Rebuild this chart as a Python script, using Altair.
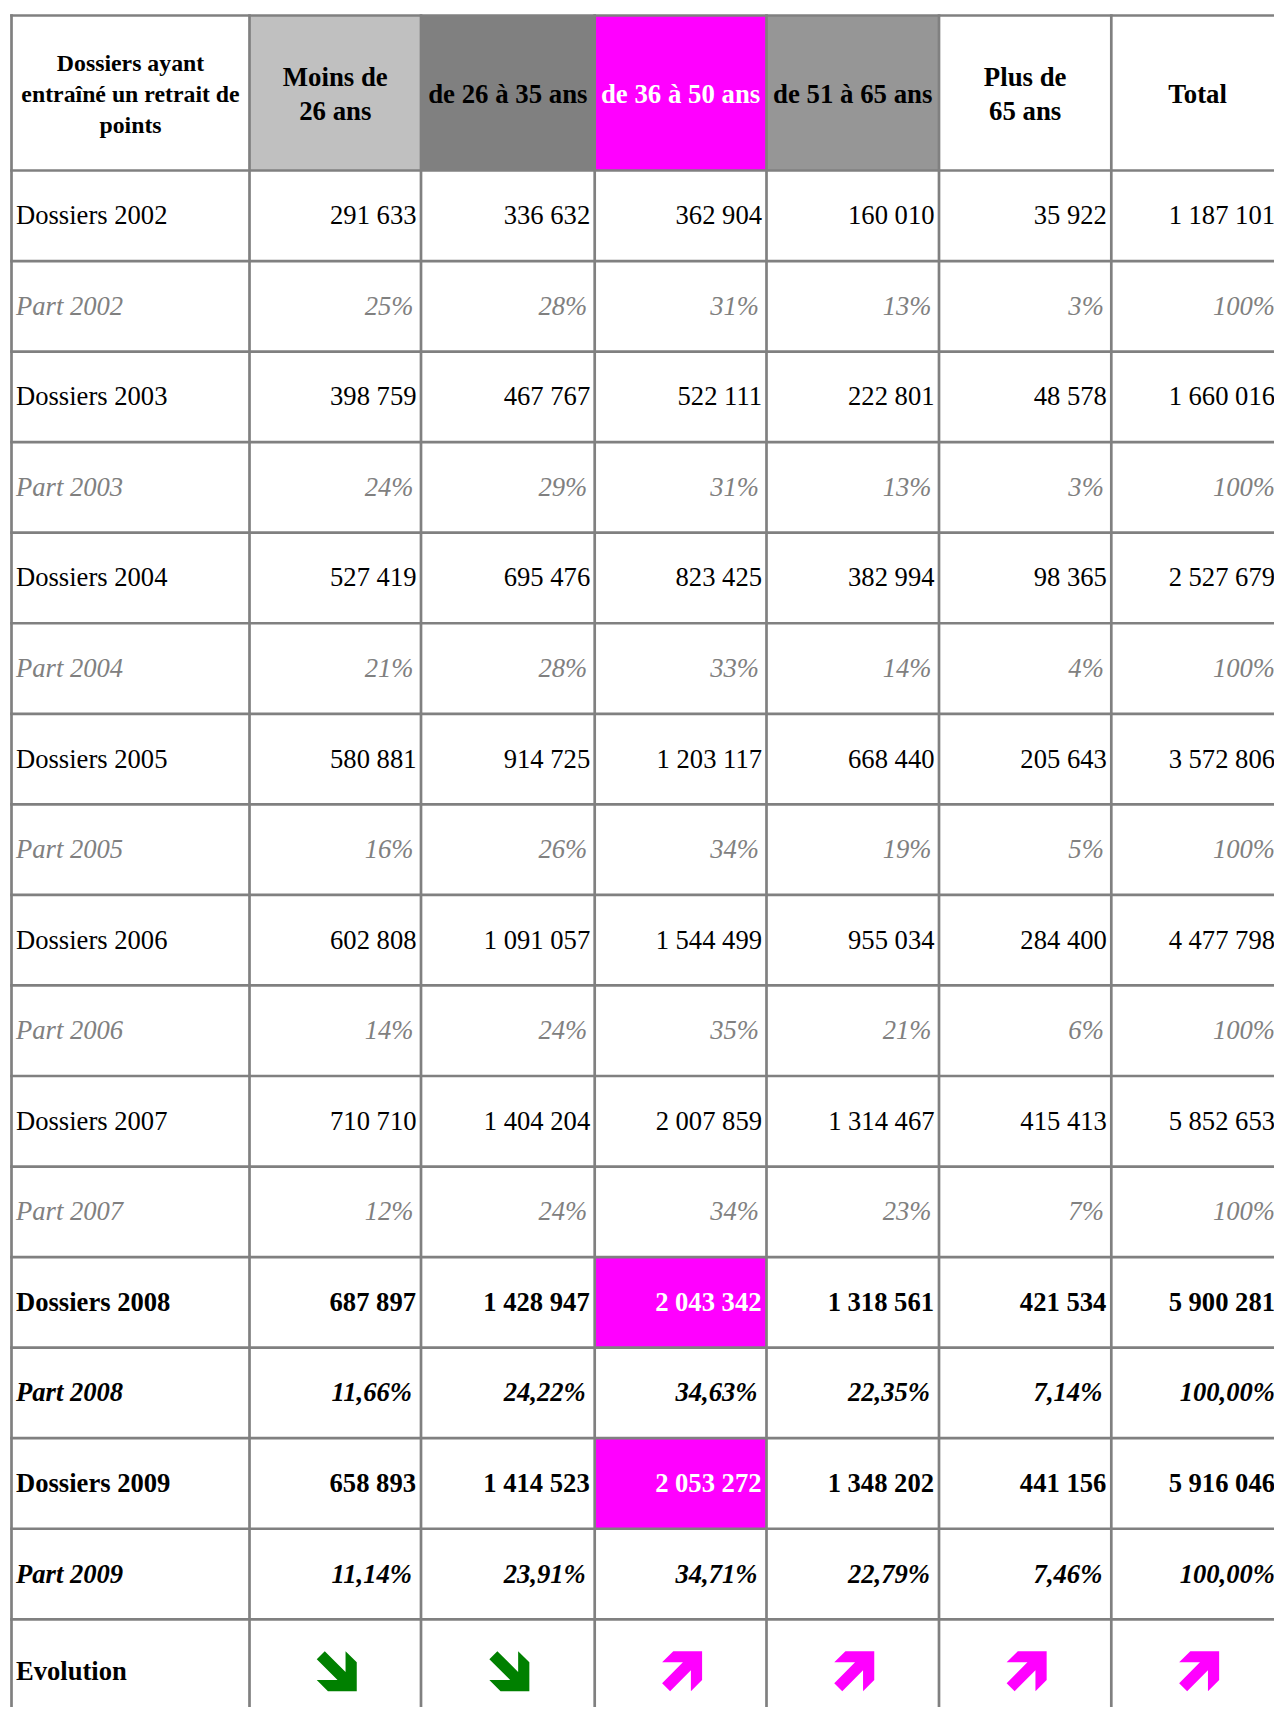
import altair as alt
import pandas as pd

FONT = "Liberation Serif"

# ---------------- data ----------------
age_groups = ["Moins de 26 ans", "de 26 à 35 ans", "de 36 à 50 ans",
              "de 51 à 65 ans", "Plus de 65 ans", "Total"]
header_labels = ["Dossiers ayant\nentraîné un retrait de\npoints",
                 "Moins de\n26 ans", "de 26 à 35 ans", "de 36 à 50 ans",
                 "de 51 à 65 ans", "Plus de\n65 ans", "Total"]
header_fills = ["#ffffff", "#c0c0c0", "#808080", "#ff00ff", "#969696", "#ffffff", "#ffffff"]
header_text_colors = ["#000000", "#000000", "#000000", "#ffffff", "#000000", "#000000", "#000000"]

years = [2002, 2003, 2004, 2005, 2006, 2007, 2008, 2009]
dossiers_2002 = [291633, 336632, 362904, 160010, 35922, 1187101]
dossiers_2003 = [398759, 467767, 522111, 222801, 48578, 1660016]
dossiers_2004 = [527419, 695476, 823425, 382994, 98365, 2527679]
dossiers_2005 = [580881, 914725, 1203117, 668440, 205643, 3572806]
dossiers_2006 = [602808, 1091057, 1544499, 955034, 284400, 4477798]
dossiers_2007 = [710710, 1404204, 2007859, 1314467, 415413, 5852653]
dossiers_2008 = [687897, 1428947, 2043342, 1318561, 421534, 5900281]
dossiers_2009 = [658893, 1414523, 2053272, 1348202, 441156, 5916046]

part_2002 = [25, 28, 31, 13, 3, 100]
part_2003 = [24, 29, 31, 13, 3, 100]
part_2004 = [21, 28, 33, 14, 4, 100]
part_2005 = [16, 26, 34, 19, 5, 100]
part_2006 = [14, 24, 35, 21, 6, 100]
part_2007 = [12, 24, 34, 23, 7, 100]
part_2008 = [11.66, 24.22, 34.63, 22.35, 7.14, 100.00]
part_2009 = [11.14, 23.91, 34.71, 22.79, 7.46, 100.00]

evolution = ["down", "down", "up", "up", "up", "up"]
highlight_col = "de 36 à 50 ans"
bold_years = [2008, 2009]

dossiers = dict(zip(years, [dossiers_2002, dossiers_2003, dossiers_2004, dossiers_2005,
                            dossiers_2006, dossiers_2007, dossiers_2008, dossiers_2009]))
parts = dict(zip(years, [part_2002, part_2003, part_2004, part_2005,
                         part_2006, part_2007, part_2008, part_2009]))

# ---------------- layout ----------------
col_edges = [11.5, 249.5, 421.0, 594.7, 766.5, 939.0, 1111.3, 1284.0]
header_top, header_bottom = 15.5, 170.5
row_h = 90.55
n_data_rows = 2 * len(years)
row_edges = [header_top, header_bottom] + \
    [header_bottom + row_h * (k + 1) for k in range(n_data_rows)] + [1723.0]
LINE_W = 2.7
GRID = "#808080"
W, H = 1266, 1699
X_MAX_TEXT = 1275.0          # keep the last column's text inside the drawing area
DY = 0.5
HDY = 1.0
right_pad = {"num": 4.5, "bnum": 5.0, "part": 7.5, "bpart": 9.0}


def fmt_int(v):
    return f"{v:,}".replace(",", " ")


def fmt_pct(v, dec):
    if dec:
        return f"{v:.2f}".replace(".", ",") + "%"
    return f"{int(round(v))}%"


texts = []
rects = []

# header
head_c = 94.0
for j, lab in enumerate(header_labels):
    x0, x1 = col_edges[j], col_edges[j + 1]
    rects.append(dict(x=x0, x2=x1, y=header_top, y2=header_bottom, fill=header_fills[j]))
    n_lines = lab.count("\n") + 1
    lh = 31.2 if j == 0 else 34.0
    texts.append(dict(x=(x0 + x1) / 2, y=head_c - (n_lines - 1) * lh / 2, text=lab,
                      grp="h1" if j == 0 else "h", color=header_text_colors[j]))

# body
r = 0
for yr in years:
    bold = yr in bold_years
    for kind in ["d", "p"]:
        yt, yb = row_edges[r + 1], row_edges[r + 2]
        yc = (yt + yb) / 2
        if kind == "d":
            lab = f"Dossiers {yr}"
            vals = [fmt_int(v) for v in dossiers[yr]]
            grp = "bnum" if bold else "num"
            color = "#000000"
        else:
            lab = f"Part {yr}"
            vals = [fmt_pct(v, bold) for v in parts[yr]]
            grp = "bpart" if bold else "part"
            color = "#000000" if bold else "#808080"
        texts.append(dict(x=col_edges[0] + 4.5, y=yc, text=lab, grp=grp + "_l", color=color))
        for j, v in enumerate(vals):
            c = color
            if kind == "d" and bold and age_groups[j] == highlight_col:
                rects.append(dict(x=col_edges[j + 1], x2=col_edges[j + 2], y=yt, y2=yb, fill="#ff00ff"))
                c = "#ffffff"
            tx = min(col_edges[j + 2] - right_pad[grp], X_MAX_TEXT)
            texts.append(dict(x=tx, y=yc, text=v, grp=grp, color=c))
        r += 1

# evolution row
ev_top, ev_bot = row_edges[-2], row_edges[-1]
ev_c = (ev_top + ev_bot) / 2
texts.append(dict(x=col_edges[0] + 4.5, y=ev_c, text="Evolution", grp="bnum_l", color="#000000"))
arrows = pd.DataFrame([dict(x=(col_edges[j + 1] + col_edges[j + 2]) / 2 + 1.5, y=ev_c, dir=d)
                       for j, d in enumerate(evolution)])

text_df = pd.DataFrame(texts)
rect_df = pd.DataFrame(rects)

hlines = pd.DataFrame([dict(y=y, x=col_edges[0] - LINE_W / 2, x2=col_edges[-1]) for y in row_edges])
vlines = pd.DataFrame([dict(x=x, y=header_top - LINE_W / 2, y2=row_edges[-1]) for x in col_edges])

# ---------------- scales ----------------
xs = alt.Scale(domain=[8, 8 + W], zero=False, nice=False)
ys = alt.Scale(domain=[8, 8 + H], zero=False, nice=False, reverse=True)
X = lambda f="x": alt.X(f"{f}:Q", scale=xs, axis=None)
Y = lambda f="y": alt.Y(f"{f}:Q", scale=ys, axis=None)

base_rect = alt.Chart(rect_df).mark_rect(clip=True).encode(
    x=X(), x2="x2:Q", y=Y(), y2="y2:Q", color=alt.Color("fill:N", scale=None))

h_rules = alt.Chart(hlines).mark_rule(color=GRID, strokeWidth=LINE_W, clip=True).encode(
    x=X(), x2="x2:Q", y=Y())
v_rules = alt.Chart(vlines).mark_rule(color=GRID, strokeWidth=LINE_W, clip=True).encode(
    x=X(), y=Y(), y2="y2:Q")

FS = 26.6
styles = {
    "h1": dict(fontSize=23.8, fontWeight="bold", align="center", lineHeight=31.2, dy=HDY),
    "h": dict(fontSize=26.8, fontWeight="bold", align="center", lineHeight=34, dy=HDY),
    "num": dict(fontSize=FS, align="right", dy=DY),
    "num_l": dict(fontSize=FS, align="left", dy=DY),
    "part": dict(fontSize=FS, fontStyle="italic", align="right", dy=DY),
    "part_l": dict(fontSize=FS, fontStyle="italic", align="left", dy=DY),
    "bnum": dict(fontSize=FS, fontWeight="bold", align="right", dy=DY),
    "bnum_l": dict(fontSize=FS, fontWeight="bold", align="left", dy=DY),
    "bpart": dict(fontSize=FS, fontWeight="bold", fontStyle="italic", align="right", dy=DY),
    "bpart_l": dict(fontSize=FS, fontWeight="bold", fontStyle="italic", align="left", dy=DY),
}

text_layers = []
for g, st in styles.items():
    text_layers.append(
        alt.Chart(text_df).transform_filter(alt.datum.grp == g)
        .mark_text(font=FONT, baseline="middle", lineBreak="\n", clip=True, **st)
        .encode(x=X(), y=Y(), text="text:N", color=alt.Color("color:N", scale=None))
    )

SE = "M-0.6,-1L0.44,0.04L0.44,-1L1,-0.44L1,1L-0.44,1L-1,0.44L0.04,0.44L-1,-0.6Z"
NE = "M-0.6,1L0.44,-0.04L0.44,1L1,0.44L1,-1L-0.44,-1L-1,-0.44L0.04,-0.44L-1,0.6Z"

down_arrows = alt.Chart(arrows).transform_filter(alt.datum.dir == "down").mark_point(
    shape=SE, filled=True, size=1600, color="#008000", opacity=1, strokeWidth=0
).encode(x=X(), y=Y())
up_arrows = alt.Chart(arrows).transform_filter(alt.datum.dir == "up").mark_point(
    shape=NE, filled=True, size=1600, color="#ff00ff", opacity=1, strokeWidth=0
).encode(x=X(), y=Y())

chart = alt.layer(base_rect, h_rules, v_rules, *text_layers, down_arrows, up_arrows).properties(
    width=W, height=H, padding=0, autosize=alt.AutoSizeParams(type="none"), background="white"
).configure_view(stroke=None)

chart.save("out.html", embed_options={"renderer": "svg", "actions": False})
